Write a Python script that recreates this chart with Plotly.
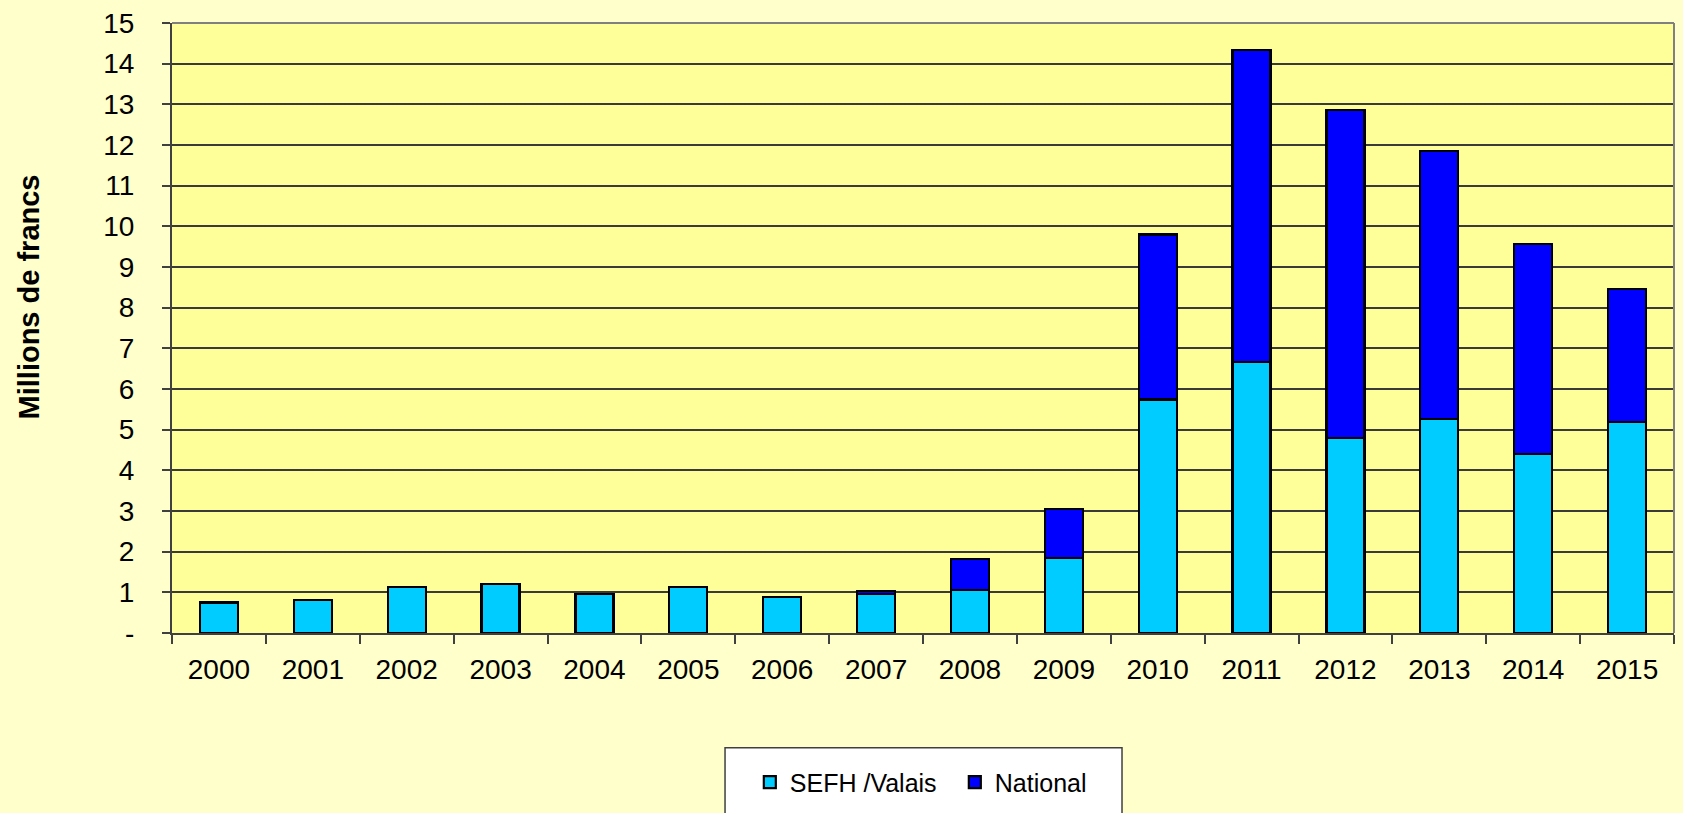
import plotly.graph_objects as go

years = ["2000", "2001", "2002", "2003", "2004", "2005", "2006", "2007",
         "2008", "2009", "2010", "2011", "2012", "2013", "2014", "2015"]
sefh_valais = [0.75, 0.82, 1.13, 1.20, 0.96, 1.13, 0.88, 0.95,
               1.05, 1.85, 5.74, 6.66, 4.80, 5.27, 4.40, 5.18]
national = [0.0, 0.0, 0.0, 0.0, 0.0, 0.0, 0.0, 0.09,
            0.77, 1.20, 4.06, 7.68, 8.06, 6.59, 5.16, 3.28]
y_tickvals = list(range(0, 16))
y_ticktext = ["-"] + [str(v) for v in range(1, 16)]

FONT = "Liberation Sans, Arial, sans-serif"

fig = go.Figure()
fig.add_trace(go.Bar(
    x=years, y=sefh_valais, name="SEFH /Valais",
    marker=dict(color="#00CCFF", line=dict(color="#000000", width=2.2)),
))
fig.add_trace(go.Bar(
    x=years, y=national, name="National",
    marker=dict(color="#0000FF", line=dict(color="#000000", width=2.2)),
))

fig.update_layout(
    barmode="stack",
    bargap=0.595,
    width=1683, height=813,
    margin=dict(l=172, r=9, t=23, b=179),
    paper_bgcolor="#FFFFCC",
    plot_bgcolor="#FFFF99",
    font=dict(family=FONT, size=28, color="#000000"),
    showlegend=True,
    legend=dict(
        orientation="h", x=0.3847, xanchor="left", y=-0.243, yanchor="middle",
        bgcolor="rgba(0,0,0,0)", borderwidth=0,
        font=dict(family=FONT, size=25, color="#000000"),
        entrywidth=160, entrywidthmode="pixels",
        traceorder="normal",
    ),
    shapes=[
        dict(type="rect", xref="paper", yref="paper",
             x0=0.3682, x1=0.6325, y0=-0.31, y1=-0.1882,
             fillcolor="#FFFFFF", line=dict(color="#404040", width=1.5),
             layer="below"),
        dict(type="line", xref="paper", yref="paper", x0=0, x1=1, y0=1, y1=1,
             line=dict(color="#808080", width=2)),
        dict(type="line", xref="paper", yref="paper", x0=1, x1=1, y0=0, y1=1,
             line=dict(color="#808080", width=2)),
    ],
    annotations=[
        dict(text="<b>Millions de francs</b>", xref="paper", yref="paper",
             x=-0.0955, y=0.551, textangle=-90, showarrow=False,
             font=dict(family=FONT, size=29, color="#000000"),
             xanchor="center", yanchor="middle"),
    ],
)

fig.update_xaxes(
    type="category",
    tickson="boundaries",
    ticks="outside", ticklen=9, tickwidth=1.5, tickcolor="#404040",
    showline=True, linecolor="#404040", linewidth=2,
    showgrid=False,
    ticklabelstandoff=10,
    tickfont=dict(family=FONT, size=28),
)
fig.update_yaxes(
    range=[0, 15],
    tickvals=y_tickvals, ticktext=y_ticktext,
    ticks="outside", ticklen=8, tickwidth=1.5, tickcolor="#404040",
    showline=True, linecolor="#404040", linewidth=2,
    showgrid=True, gridcolor="#3A3A3A", gridwidth=1.5,
    zeroline=False,
    ticklabelstandoff=22,
    tickfont=dict(family=FONT, size=28),
)

fig.write_html("out.html", config={"displayModeBar": False},
               post_script="document.body.style.margin='0';")
